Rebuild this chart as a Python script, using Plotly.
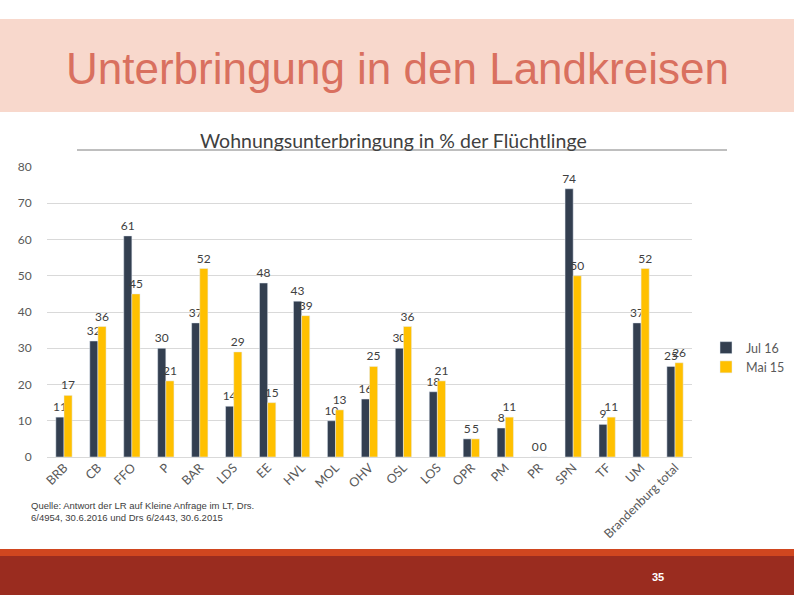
import plotly.graph_objects as go

categories = ["BRB", "CB", "FFO", "P", "BAR", "LDS", "EE", "HVL", "MOL", "OHV", "OSL",
              "LOS", "OPR", "PM", "PR", "SPN", "TF", "UM", "Brandenburg total"]
jul16 = [11, 32, 61, 30, 37, 14, 48, 43, 10, 16, 30, 18, 5, 8, 0, 74, 9, 37, 25]
mai15 = [17, 36, 45, 21, 52, 29, 15, 39, 13, 25, 36, 21, 5, 11, 0, 50, 11, 52, 26]
series_names = ["Jul 16", "Mai 15"]
y_ticks = [0, 10, 20, 30, 40, 50, 60, 70, 80]

W, H = 794, 595
DARK = "#333F50"
YELLOW = "#FFC000"
TXT = "#404040"
FONT = "Lato, Open Sans, sans-serif"

fig = go.Figure()
fig.add_bar(x=categories, y=jul16, name=series_names[0], marker_color=DARK,
            text=[str(v) for v in jul16], textposition="outside", constraintext="none",
            textfont=dict(size=12, color=TXT, family=FONT), cliponaxis=False)
fig.add_bar(x=categories, y=mai15, name=series_names[1], marker_color=YELLOW,
            text=[str(v) for v in mai15], textposition="outside", constraintext="none",
            textfont=dict(size=12, color=TXT, family=FONT), cliponaxis=False)

def py(px):
    return 1 - px / H

fig.update_layout(
    width=W, height=H, autosize=False,
    margin=dict(l=0, r=0, t=0, b=0, pad=0, autoexpand=False),
    paper_bgcolor="white", plot_bgcolor="white",
    barmode="group", bargap=0.52, bargroupgap=0.0,
    font=dict(family=FONT, color="#595959"),
    showlegend=True,
    legend=dict(x=706 / W, y=py(333), xanchor="left", yanchor="top",
                font=dict(size=12.5, color="#595959", family=FONT),
                bgcolor="rgba(0,0,0,0)", tracegroupgap=4, itemwidth=30),
    xaxis=dict(domain=[47 / W, 692 / W], tickangle=-45, automargin=False,
               tickfont=dict(size=12.5, color="#595959", family=FONT),
               showgrid=False, showline=False, ticks=""),
    yaxis=dict(domain=[py(457), py(167)], range=[0, 80], tickvals=y_ticks, automargin=False,
               showgrid=True, gridcolor="#D9D9D9", gridwidth=1,
               zeroline=True, zerolinecolor="#D9D9D9", zerolinewidth=1,
               tickfont=dict(size=12, color="#595959", family=FONT),
               ticks="outside", ticklen=12, tickcolor="rgba(0,0,0,0)",
               showline=False),
    shapes=[
        dict(type="rect", xref="paper", yref="paper", x0=0, x1=1, y0=py(112), y1=py(19),
             fillcolor="#F8D8CC", line_width=0, layer="below"),
        dict(type="line", xref="paper", yref="paper", x0=77 / W, x1=727 / W,
             y0=py(150), y1=py(150), line=dict(color="#7F7F7F", width=1)),
        dict(type="rect", xref="paper", yref="paper", x0=0, x1=1, y0=py(556), y1=py(549),
             fillcolor="#D0461F", line_width=0),
        dict(type="rect", xref="paper", yref="paper", x0=0, x1=1, y0=0, y1=py(556),
             fillcolor="#9A2C1F", line_width=0),
    ],
    annotations=[
        dict(text="Unterbringung in den Landkreisen", xref="paper", yref="paper",
             x=397 / W, y=py(68), xanchor="center", yanchor="middle", showarrow=False,
             font=dict(family="Liberation Sans, Arial, sans-serif", size=44, color="#D9705F")),
        dict(text="Wohnungsunterbringung in % der Flüchtlinge", xref="paper", yref="paper",
             x=393 / W, y=py(140), xanchor="center", yanchor="middle", showarrow=False,
             font=dict(family=FONT, size=19.5, color="#404040")),
        dict(text="Quelle: Antwort der LR auf Kleine Anfrage im LT, Drs.<br>6/4954, 30.6.2016 und Drs 6/2443, 30.6.2015",
             xref="paper", yref="paper", x=29 / W, y=py(498), xanchor="left", yanchor="top",
             align="left", showarrow=False,
             font=dict(family="Liberation Sans, Arial, sans-serif", size=9.5, color="#404040")),
        dict(text="<b>35</b>", xref="paper", yref="paper", x=658 / W, y=py(577),
             xanchor="center", yanchor="middle", showarrow=False,
             font=dict(family="Liberation Sans, Arial, sans-serif", size=11, color="white")),
    ],
)

fig.write_html("out.html", config={"displayModeBar": False},
               post_script="document.body.style.margin='0';")
